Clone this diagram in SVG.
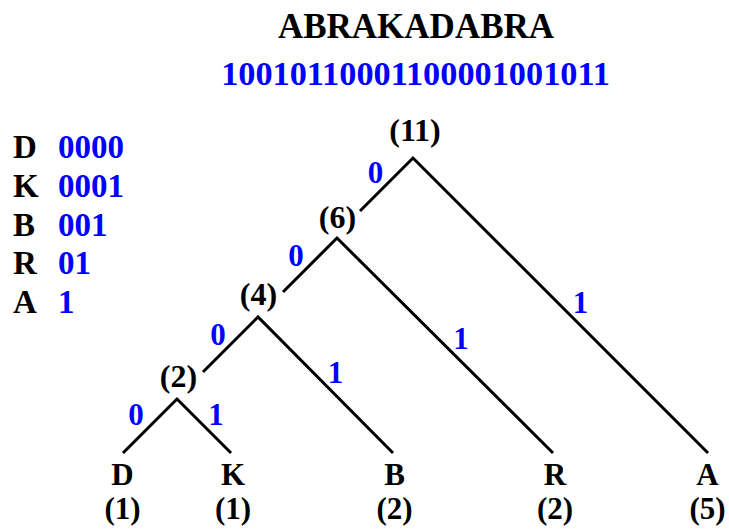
<svg xmlns="http://www.w3.org/2000/svg" width="729" height="529" viewBox="0 0 729 529">
<style>
  text { font-family: "Liberation Serif", "Times New Roman", serif; font-weight: bold; }
  .blk { fill: #000; }
  .blu { fill: #0000ff; }
  .node { font-size: 32px; text-anchor: middle; }
  .leaf { font-size: 31px; text-anchor: middle; }
  .lbl { font-size: 31px; text-anchor: middle; fill: #0000ff; }
  .leg { font-size: 33px; }
  .edge { stroke: #000; stroke-width: 3; fill: none; }
</style>
<rect width="729" height="529" fill="#fff"/>
<g id="title">
  <text x="416" y="38" class="blk" font-size="35" text-anchor="middle">ABRAKADABRA</text>
  <text x="415.5" y="85" class="blu" font-size="34.3" text-anchor="middle">10010110001100001001011</text>
</g>
<g id="legend" class="leg">
  <text x="13" y="158" class="blk">D</text><text x="58" y="158" class="blu">0000</text>
  <text x="13" y="197" class="blk">K</text><text x="58" y="197" class="blu">0001</text>
  <text x="13" y="236" class="blk">B</text><text x="58" y="236" class="blu">001</text>
  <text x="13" y="274" class="blk">R</text><text x="58" y="274" class="blu">01</text>
  <text x="13" y="313" class="blk">A</text><text x="58" y="313" class="blu">1</text>
</g>
<g id="connectors">
  <path class="edge" d="M360,211 L413,158 L708,453"/>
  <path class="edge" d="M283,292 L337,238 L553,453"/>
  <path class="edge" d="M203,372 L258,317 L393,453"/>
  <path class="edge" d="M123,453 L177,399 L231,453"/>
</g>
<g id="edge-labels" class="lbl">
  <text x="375.5" y="183">0</text>
  <text x="580.5" y="313">1</text>
  <text x="296" y="266">0</text>
  <text x="461" y="349">1</text>
  <text x="218" y="345">0</text>
  <text x="335.5" y="383">1</text>
  <text x="136" y="425">0</text>
  <text x="216" y="425">1</text>
</g>
<g id="n11" class="node blk"><text x="415" y="141">(11)</text></g>
<g id="n6" class="node blk"><text x="337.5" y="228">(6)</text></g>
<g id="n4" class="node blk"><text x="258.5" y="305">(4)</text></g>
<g id="n2" class="node blk"><text x="178.5" y="387">(2)</text></g>
<g id="leafD" class="leaf blk"><text x="122.5" y="485">D</text><text x="122.5" y="519">(1)</text></g>
<g id="leafK" class="leaf blk"><text x="233" y="485">K</text><text x="233" y="519">(1)</text></g>
<g id="leafB" class="leaf blk"><text x="394.5" y="485">B</text><text x="394.5" y="519">(2)</text></g>
<g id="leafR" class="leaf blk"><text x="555" y="485">R</text><text x="555" y="519">(2)</text></g>
<g id="leafA" class="leaf blk"><text x="707.5" y="485">A</text><text x="707.5" y="519">(5)</text></g>
</svg>
